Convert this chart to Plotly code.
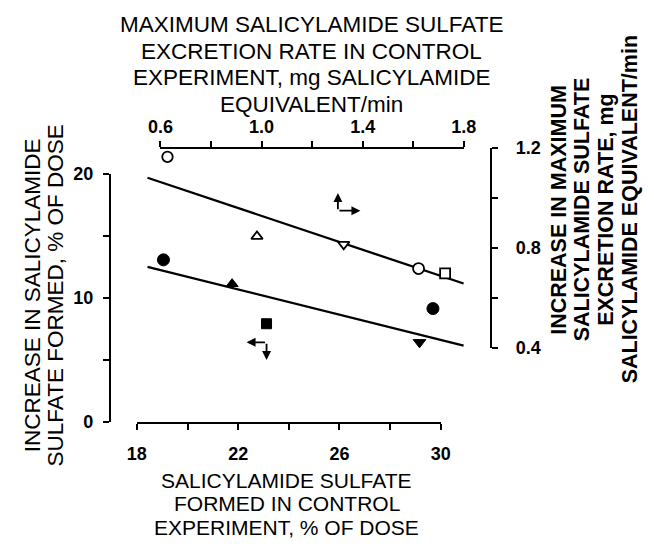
import plotly.graph_objects as go

W, H = 654, 546

# ---- data ----
# filled symbols: bottom x axis (% of dose) vs left y axis (% of dose)
filled_x = [19.05, 21.76, 23.12, 29.16, 29.69]
filled_y = [13.06, 11.12, 7.91, 6.41, 9.13]
filled_symbols = ["circle", "triangle-up", "square", "triangle-down", "circle"]
# open symbols: top x axis (mg/min) vs right y axis (mg/min)
open_x = [0.628, 0.982, 1.325, 1.621, 1.726]
open_y = [1.165, 0.846, 0.814, 0.717, 0.698]
open_symbols = ["circle", "triangle-up", "triangle-down", "circle", "square"]
# fitted lines
lower_fit_x = [18.42, 30.90]
lower_fit_y = [12.49, 6.15]
upper_fit_x = [0.549, 1.799]
upper_fit_y = [1.081, 0.657]
# axis direction arrows (corner, tips)
upper_arrow_corner = [1.302, 0.949]
upper_arrow_up = [1.302, 1.02]
upper_arrow_right = [1.391, 0.949]
lower_arrow_corner = [23.12, 6.41]
lower_arrow_left = [22.33, 6.41]
lower_arrow_down = [23.12, 4.99]

# ticks
bottom_ticks = [18, 20, 22, 24, 26, 28, 30]
bottom_labels = ["18", "", "22", "", "26", "", "30"]
left_ticks = [0, 5, 10, 15, 20]
left_labels = ["0", "", "10", "", "20"]
top_ticks = [0.6, 0.8, 1.0, 1.2, 1.4, 1.6, 1.8]
top_labels = ["0.6", "", "1.0", "", "1.4", "", "1.8"]
right_ticks = [0.4, 0.6, 0.8, 1.0, 1.2]
right_labels = ["0.4", "", "0.8", "", "1.2"]

top_title = ["MAXIMUM SALICYLAMIDE SULFATE", "EXCRETION RATE IN CONTROL",
             "EXPERIMENT, mg SALICYLAMIDE", "EQUIVALENT/min"]
bottom_title = ["SALICYLAMIDE SULFATE", "FORMED IN CONTROL", "EXPERIMENT, % OF DOSE"]
left_title = ["INCREASE IN SALICYLAMIDE", "SULFATE FORMED, % OF DOSE"]
right_title = ["INCREASE IN MAXIMUM", "SALICYLAMIDE SULFATE",
               "EXCRETION RATE, mg", "SALICYLAMIDE EQUIVALENT/min"]

FONT = "Liberation Sans, Arial, sans-serif"
INK = "#000000"


def fx(px):
    return px / W


def fy(py):
    return 1 - py / H


def extend(rng, dom, newdom):
    k = (rng[1] - rng[0]) / (dom[1] - dom[0])
    return [rng[0] + (newdom[0] - dom[0]) * k, rng[0] + (newdom[1] - dom[0]) * k]


# visible axes geometry
bx_dom, bx_rng = [fx(129), fx(445.5)], [18, 30]
ly_dom, ly_rng = [fy(427.5), fy(170)], [0, 20]
tx_dom, tx_rng = [fx(153.5), fx(469.5)], [0.6, 1.8]
ry_dom, ry_rng = [fy(350.5), fy(143.3)], [0.4, 1.2]
# data (hidden) axes, wider area so lines are not clipped
dx_dom = [fx(80), fx(520)]
dy_dom = [fy(460), fy(120)]

fig = go.Figure()

# dummy traces so the visible axes get drawn
fig.add_trace(go.Scatter(x=[], y=[], xaxis="x", yaxis="y", showlegend=False, hoverinfo="skip"))
fig.add_trace(go.Scatter(x=[], y=[], xaxis="x2", yaxis="y2", showlegend=False, hoverinfo="skip"))

fig.add_trace(go.Scatter(x=lower_fit_x, y=lower_fit_y, mode="lines", xaxis="x3", yaxis="y3",
                         line=dict(color=INK, width=2.3), showlegend=False, hoverinfo="skip"))
fig.add_trace(go.Scatter(x=upper_fit_x, y=upper_fit_y, mode="lines", xaxis="x4", yaxis="y4",
                         line=dict(color=INK, width=2.3), showlegend=False, hoverinfo="skip"))
fig.add_trace(go.Scatter(x=filled_x, y=filled_y, mode="markers", xaxis="x3", yaxis="y3",
                         marker=dict(symbol=filled_symbols, size=[12, 10.5, 10, 11, 12],
                                     color=INK, opacity=1, line=dict(width=1, color=INK)),
                         opacity=1, cliponaxis=False, showlegend=False))
fig.add_trace(go.Scatter(x=open_x, y=open_y, mode="markers", xaxis="x4", yaxis="y4",
                         marker=dict(symbol=open_symbols, size=[10.5, 10, 10, 11, 10],
                                     color="white", opacity=1, line=dict(width=1.8, color=INK)),
                         opacity=1, cliponaxis=False, showlegend=False))

tickfont = dict(family=FONT, size=18, color=INK, weight="bold")
common = dict(showgrid=False, zeroline=False, showline=True, linecolor=INK, linewidth=2,
              ticks="outside", ticklen=6, tickwidth=2, tickcolor=INK, tickfont=tickfont,
              tickmode="array", anchor="free", fixedrange=True)

fig.update_layout(
    width=W, height=H, margin=dict(l=0, r=0, t=0, b=0),
    paper_bgcolor="white", plot_bgcolor="rgba(0,0,0,0)",
    showlegend=False,
    xaxis=dict(domain=bx_dom, range=bx_rng, position=fy(429), side="bottom",
               tickvals=bottom_ticks, ticktext=bottom_labels, ticklabelstandoff=8, **common),
    yaxis=dict(domain=ly_dom, range=ly_rng, position=fx(101), side="left",
               tickvals=left_ticks, ticktext=left_labels, ticklabelstandoff=6, **common),
    xaxis2=dict(domain=tx_dom, range=tx_rng, position=fy(143.3), side="top",
                tickvals=top_ticks, ticktext=top_labels, ticklabelstandoff=1, **common),
    yaxis2=dict(domain=ry_dom, range=ry_rng, position=fx(498), side="right",
                tickvals=right_ticks, ticktext=right_labels, ticklabelstandoff=14, **common),
    xaxis3=dict(domain=dx_dom, range=extend(bx_rng, bx_dom, dx_dom), visible=False,
                anchor="y3", fixedrange=True),
    yaxis3=dict(domain=dy_dom, range=extend(ly_rng, ly_dom, dy_dom), visible=False,
                anchor="x3", fixedrange=True),
    xaxis4=dict(overlaying="x3", range=extend(tx_rng, tx_dom, dx_dom), visible=False,
                anchor="y4", fixedrange=True),
    yaxis4=dict(overlaying="y3", range=extend(ry_rng, ry_dom, dy_dom), visible=False,
                anchor="x4", fixedrange=True),
)

annotations = []
tfont = dict(family=FONT, size=22.5, color=INK)
bfont = dict(family=FONT, size=21, color=INK)
rfont = dict(family=FONT, size=21.5, color=INK, weight="bold")
for i, t in enumerate(top_title):
    annotations.append(dict(text=t, x=fx(311), y=fy(15 + 27.7 * i), xref="paper", yref="paper",
                            xanchor="center", yanchor="middle", showarrow=False, font=tfont))
for i, t in enumerate(bottom_title):
    annotations.append(dict(text=t, x=fx(285), y=fy(488 + 24.5 * i), xref="paper", yref="paper",
                            xanchor="center", yanchor="middle", showarrow=False, font=bfont,
                            borderpad=0))
for i, t in enumerate(left_title):
    annotations.append(dict(text=t, x=fx(20 + 24 * i), y=fy(296), xref="paper", yref="paper",
                            xanchor="center", yanchor="middle", textangle=-90,
                            showarrow=False, font=tfont))
for i, t in enumerate(right_title):
    annotations.append(dict(text=t, x=fx(569 + 24.5 * i), y=fy(207), xref="paper", yref="paper",
                            xanchor="center", yanchor="middle", textangle=-90,
                            showarrow=False, font=rfont))


def arrow(xr, yr, tip, tail):
    return dict(x=tip[0], y=tip[1], ax=tail[0], ay=tail[1], xref=xr, yref=yr,
                axref=xr, ayref=yr, text="", showarrow=True, arrowhead=2,
                arrowsize=1, arrowwidth=1.8, arrowcolor=INK)


annotations.append(arrow("x4", "y4", upper_arrow_up, upper_arrow_corner))
annotations.append(arrow("x4", "y4", upper_arrow_right, upper_arrow_corner))
annotations.append(arrow("x3", "y3", lower_arrow_left, lower_arrow_corner))
annotations.append(arrow("x3", "y3", lower_arrow_down, lower_arrow_corner))

fig.update_layout(annotations=annotations)

fig.write_html("out.html")
